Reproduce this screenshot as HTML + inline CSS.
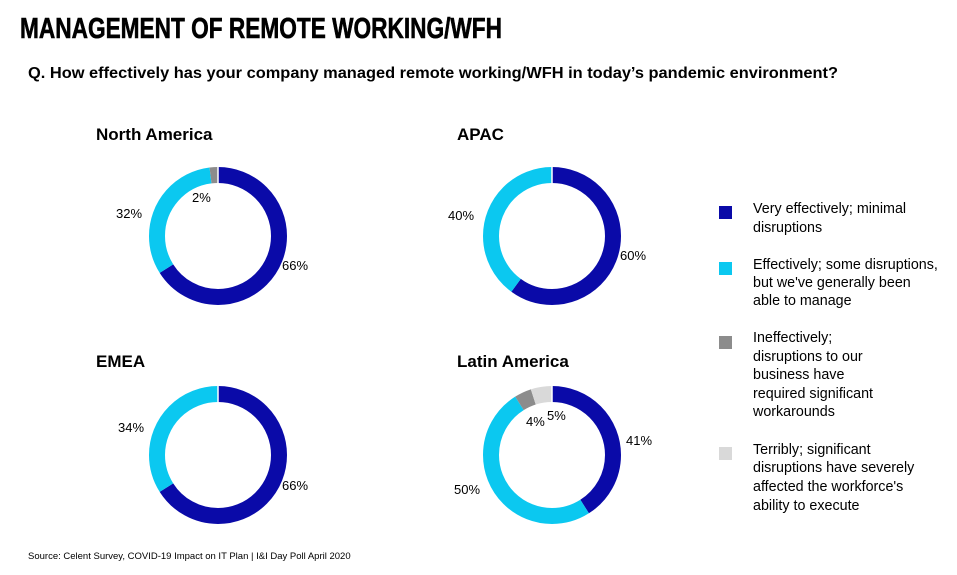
<!DOCTYPE html>
<html><head><meta charset="utf-8"><style>
body{margin:0;background:#fff;width:957px;height:570px;overflow:hidden}
text{font-family:"Liberation Sans",sans-serif}
</style></head><body>
<svg width="957" height="570" xmlns="http://www.w3.org/2000/svg">
<text x="20" y="38" font-family="'Liberation Sans Narrow','Liberation Sans',sans-serif" font-size="29" font-weight="bold" stroke="#000" stroke-width="0.6" textLength="482" lengthAdjust="spacingAndGlyphs">MANAGEMENT OF REMOTE WORKING/WFH</text>
<text x="28" y="78" font-size="15.5" font-weight="bold" textLength="810" lengthAdjust="spacingAndGlyphs">Q. How effectively has your company managed remote working/WFH in today’s pandemic environment?</text>

<g font-weight="bold" font-size="17">
<text x="96" y="140">North America</text>
<text x="457" y="140">APAC</text>
<text x="96" y="367">EMEA</text>
<text x="457" y="367">Latin America</text>
</g>

<g fill="none" stroke-width="16">
 <g transform="translate(218,236) rotate(-90)">
  <circle r="61" stroke="#0a0aa8" stroke-dasharray="252.96 383.27"/>
  <circle r="61" stroke="#0bc8f0" stroke-dasharray="0 252.96 122.65 383.27"/>
  <circle r="61" stroke="#8c8c8c" stroke-dasharray="0 375.61 7.66 383.27"/>
 </g>
 <g transform="translate(552,236) rotate(-90)">
  <circle r="61" stroke="#0a0aa8" stroke-dasharray="229.96 383.27"/>
  <circle r="61" stroke="#0bc8f0" stroke-dasharray="0 229.96 153.31 383.27"/>
 </g>
 <g transform="translate(218,455) rotate(-90)">
  <circle r="61" stroke="#0a0aa8" stroke-dasharray="252.96 383.27"/>
  <circle r="61" stroke="#0bc8f0" stroke-dasharray="0 252.96 130.31 383.27"/>
 </g>
 <g transform="translate(552,455) rotate(-90)">
  <circle r="61" stroke="#0a0aa8" stroke-dasharray="157.14 383.27"/>
  <circle r="61" stroke="#0bc8f0" stroke-dasharray="0 157.14 191.64 383.27"/>
  <circle r="61" stroke="#8c8c8c" stroke-dasharray="0 348.78 15.33 383.27"/>
  <circle r="61" stroke="#d9d9d9" stroke-dasharray="0 364.11 19.16 383.27"/>
 </g>
</g>
<g stroke="#fff" stroke-width="1.5">
 <line x1="218" y1="165" x2="218" y2="185"/>
 <line x1="552" y1="165" x2="552" y2="185"/>
 <line x1="218" y1="384" x2="218" y2="404"/>
 <line x1="552" y1="384" x2="552" y2="404"/>
</g>

<g font-size="13">
<text x="282" y="270">66%</text>
<text x="116" y="218">32%</text>
<text x="192" y="202">2%</text>
<text x="620" y="260">60%</text>
<text x="448" y="220">40%</text>
<text x="282" y="490">66%</text>
<text x="118" y="432">34%</text>
<text x="626" y="445">41%</text>
<text x="454" y="494">50%</text>
<text x="526" y="426">4%</text>
<text x="547" y="420">5%</text>
</g>

<g font-size="14.3">
<rect x="719" y="206" width="13" height="13" fill="#0a0aa8"/>
<text x="753" y="213">Very effectively; minimal</text>
<text x="753" y="232">disruptions</text>
<rect x="719" y="262" width="13" height="13" fill="#0bc8f0"/>
<text x="753" y="269">Effectively; some disruptions,</text>
<text x="753" y="287">but we've generally been</text>
<text x="753" y="305">able to manage</text>
<rect x="719" y="336" width="13" height="13" fill="#8c8c8c"/>
<text x="753" y="342">Ineffectively;</text>
<text x="753" y="361">disruptions to our</text>
<text x="753" y="379">business have</text>
<text x="753" y="398">required significant</text>
<text x="753" y="416">workarounds</text>
<rect x="719" y="447" width="13" height="13" fill="#d9d9d9"/>
<text x="753" y="454">Terribly; significant</text>
<text x="753" y="472">disruptions have severely</text>
<text x="753" y="491">affected the workforce's</text>
<text x="753" y="510">ability to execute</text>
</g>

<text x="28" y="559" font-size="9.5">Source: Celent Survey, COVID-19 Impact on IT Plan | I&amp;I Day Poll April 2020</text>
</svg>
</body></html>
